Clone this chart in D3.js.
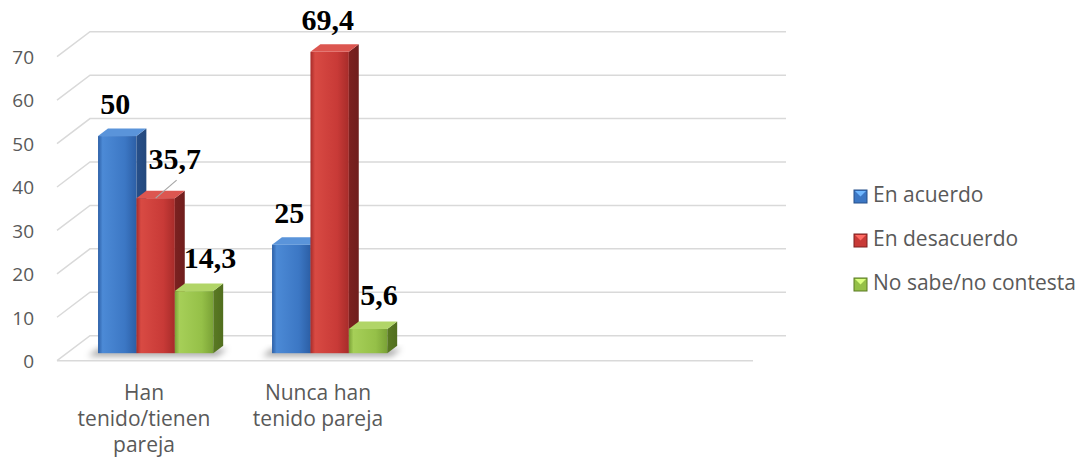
<!DOCTYPE html>
<html>
<head>
<meta charset="utf-8">
<script src="https://cdn.jsdelivr.net/npm/d3@7"></script>
<style>
  body { margin: 0; background: #fff; }
  svg { display: block; font-family: "Open Sans", sans-serif; }
</style>
</head>
<body>
<div id="chart"></div>
<script>
// data
const categories = ["Han tenido/tienen pareja", "Nunca han tenido pareja"];
const seriesNames = ["En acuerdo", "En desacuerdo", "No sabe/no contesta"];
const enAcuerdo = [50, 25];
const enDesacuerdo = [35.7, 69.4];
const noSabe = [14.3, 5.6];
const yTicks = [0, 10, 20, 30, 40, 50, 60, 70];

const seriesValues = [enAcuerdo, enDesacuerdo, noSabe];

// look of the bars: [front light, front mid, front edge, side, top]
const palette = [
  ["#4c8ad6", "#3c77c4", "#2c5fa6", "#27508a", "#5a94da"],
  ["#d84a43", "#c83a37", "#a72c2a", "#7c2120", "#dc5650"],
  ["#a6cf58", "#95c048", "#7aa236", "#5a7a22", "#b1d567"]
];

// label nudges (series, category, dx, dy, leader)
const labelNudge = [
  [1, 0, 21, -7, true],
  [2, 0, 18, -1, false],
  [2, 1, 13, -2, false]
];

const width = 1081, height = 464;
const left = 57, right = 753;
const depthX = 33, depthY = -25;
const d0 = 0.3, d1 = 0.6;
const slots = 4;

const svg = d3.select("#chart").append("svg")
  .attr("width", width)
  .attr("height", height);

const defs = svg.append("defs");

function proj(x, y, d) {
  return [x + depthX * d, y + depthY * d];
}

let y = d3.scaleLinear().domain([0, 70]).range([360.7, 56.7]);
let x = d3.scaleBand().domain(d3.range(slots)).range([left, right]);
let xs = d3.scaleBand().domain(d3.range(seriesNames.length))
  .range([0, x.bandwidth()]).paddingInner(0).paddingOuter(0.765).align(0.53);

palette.forEach(function(c, i) {
  let g = defs.append("linearGradient").attr("id", "front" + i)
    .attr("x1", 0).attr("x2", 1).attr("y1", 0).attr("y2", 0);
  g.append("stop").attr("offset", "0%").attr("stop-color", c[2]);
  g.append("stop").attr("offset", "12%").attr("stop-color", c[0]);
  g.append("stop").attr("offset", "70%").attr("stop-color", c[1]);
  g.append("stop").attr("offset", "100%").attr("stop-color", c[2]);

  let s = defs.append("linearGradient").attr("id", "side" + i)
    .attr("x1", 0).attr("x2", 1).attr("y1", 0).attr("y2", 0);
  s.append("stop").attr("offset", "0%").attr("stop-color", c[3]);
  s.append("stop").attr("offset", "100%").attr("stop-color", d3.color(c[3]).darker(0.3));
});

let blur = defs.append("filter").attr("id", "blur")
  .attr("x", "-50%").attr("y", "-50%").attr("width", "200%").attr("height", "200%");
blur.append("feGaussianBlur").attr("stdDeviation", 3);

// walls and gridlines
let grid = svg.append("g").attr("fill", "none")
  .attr("stroke", "#d9d9d9").attr("stroke-width", 1.5);

grid.selectAll("polyline")
  .data(yTicks)
  .enter().append("polyline")
  .attr("points", function(t) {
    return [proj(left, y(t), 0), proj(left, y(t), 1), proj(right, y(t), 1)].join(" ");
  });

grid.append("line")
  .attr("x1", left).attr("x2", right)
  .attr("y1", y(0)).attr("y2", y(0));

// y axis labels
let yAxis = svg.append("g")
  .attr("transform", "translate(34,0)")
  .call(d3.axisLeft(y).tickValues(yTicks).tickSize(0).tickPadding(0));
yAxis.select(".domain").remove();
yAxis.selectAll("text")
  .attr("font-family", "Open Sans")
  .attr("font-size", 19)
  .attr("fill", "#595959")
  .attr("dy", "0.36em");

// floor shadows
let shadows = svg.append("g").attr("filter", "url(#blur)");
categories.forEach(function(cat, i) {
  let x0 = x(i) + xs(0) - 10;
  let x1 = x(i) + xs(seriesNames.length - 1) + xs.bandwidth() + 4;
  let yb = y(0) + 3;
  shadows.append("polygon")
    .attr("points", [proj(x0, yb, d0), proj(x0, yb, d1), proj(x1, yb, d1), proj(x1, yb, d0)].join(" "))
    .attr("fill", "#000")
    .attr("opacity", 0.35);
});

// bars
let bars = svg.append("g");
categories.forEach(function(cat, i) {
  seriesValues.forEach(function(vals, j) {
    let v = vals[i];
    let x0 = x(i) + xs(j);
    let x1 = x0 + xs.bandwidth();
    let yt = y(v), yb = y(0);
    let bar = bars.append("g");

    let f0 = proj(x0, yt, d0), f1 = proj(x1, yb, d0);
    bar.append("rect")
      .attr("x", f0[0]).attr("y", f0[1])
      .attr("width", f1[0] - f0[0]).attr("height", f1[1] - f0[1])
      .attr("fill", "url(#front" + j + ")");

    bar.append("polygon")
      .attr("points", [proj(x1, yt, d0), proj(x1, yt, d1), proj(x1, yb, d1), proj(x1, yb, d0)].join(" "))
      .attr("fill", "url(#side" + j + ")");

    bar.append("polygon")
      .attr("points", [proj(x0, yt, d0), proj(x0, yt, d1), proj(x1, yt, d1), proj(x1, yt, d0)].join(" "))
      .attr("fill", palette[j][4]);
  });
});

// value labels
let labels = svg.append("g")
  .attr("font-family", "Liberation Serif, Times New Roman, serif")
  .attr("font-weight", "bold")
  .attr("font-size", 30)
  .attr("fill", "#000")
  .attr("text-anchor", "middle");

categories.forEach(function(cat, i) {
  seriesValues.forEach(function(vals, j) {
    let v = vals[i];
    let cx = x(i) + xs(j) + xs.bandwidth() / 2 + depthX * d0 - 2;
    let top = y(v) + depthY * d0;
    let nudge = labelNudge.find(function(n) { return n[0] === j && n[1] === i; });
    let dx = nudge ? nudge[2] : 0, dy = nudge ? nudge[3] : 0;
    if (nudge && nudge[4]) {
      svg.append("line")
        .attr("x1", cx + 2).attr("y1", top)
        .attr("x2", cx + dx + 2).attr("y2", top + dy - 22 + 11)
        .attr("stroke", "#a6a6a6").attr("stroke-width", 1.2);
    }
    labels.append("text")
      .attr("x", cx + dx)
      .attr("y", top - 22 + dy)
      .text(String(v).replace(".", ","));
  });
});

// category labels
function wrap(text, maxWidth) {
  text.each(function() {
    let t = d3.select(this);
    let words = t.text().split(/\s+/);
    let cx = t.attr("x");
    t.text(null);
    let line = [];
    let lineNo = 0;
    let tspan = t.append("tspan").attr("x", cx).attr("dy", 0);
    words.forEach(function(w) {
      line.push(w);
      tspan.text(line.join(" "));
      if (tspan.node().getComputedTextLength() > maxWidth && line.length > 1) {
        line.pop();
        tspan.text(line.join(" "));
        line = [w];
        lineNo++;
        tspan = t.append("tspan").attr("x", cx).attr("dy", 26).text(w);
      }
    });
  });
}

svg.append("g").selectAll("text")
  .data(categories)
  .enter().append("text")
  .attr("x", function(d, i) { return x(i) + x.bandwidth() / 2; })
  .attr("y", 400)
  .attr("text-anchor", "middle")
  .attr("font-size", 21)
  .attr("fill", "#595959")
  .text(function(d) { return d; })
  .call(wrap, 150);

// legend
let legend = svg.append("g").attr("transform", "translate(854,190)");
let item = legend.selectAll("g")
  .data(seriesNames)
  .enter().append("g")
  .attr("transform", function(d, i) { return "translate(0," + i * 44 + ")"; });

item.append("rect")
  .attr("width", 13).attr("height", 13)
  .attr("fill", function(d, i) { return palette[i][1]; })
  .attr("stroke", function(d, i) { return palette[i][3]; })
  .attr("stroke-width", 1);
item.append("path")
  .attr("d", "M1,1L12,1L6.5,6.5Z")
  .attr("fill", function(d, i) { return d3.color(palette[i][4]).brighter(0.6); });

item.append("text")
  .attr("x", 19)
  .attr("y", 12.3)
  .attr("font-size", 21)
  .attr("fill", "#595959")
  .text(function(d) { return d; });
</script>
</body>
</html>
